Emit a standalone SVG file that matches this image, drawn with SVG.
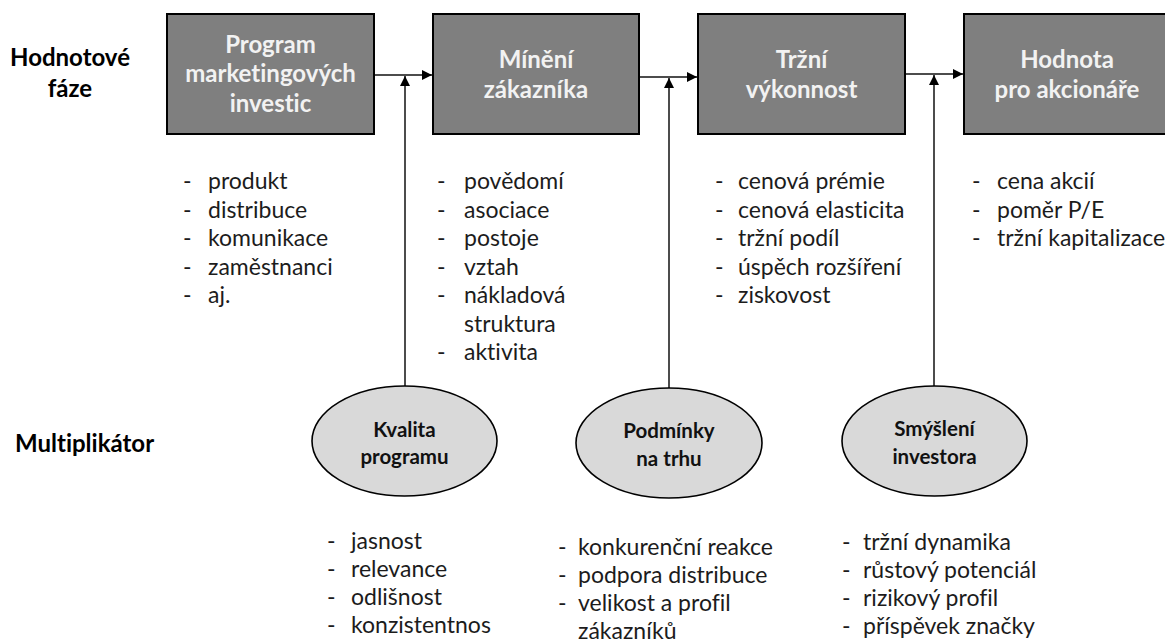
<svg xmlns="http://www.w3.org/2000/svg" width="1165" height="639" viewBox="0 0 1165 639">
  <style>
    text { font-variant-ligatures: none; }
    .phase rect { fill: #7f7f7f; stroke: #000; stroke-width: 2; }
    .phase text { font-family: Lato, "Liberation Sans", sans-serif; font-weight: bold; font-size: 24px; fill: #f2f2f2; text-anchor: middle; }
    .mult ellipse { fill: #d9d9d9; stroke: #000; stroke-width: 1.6; }
    .mult text { font-family: Lato, "Liberation Sans", sans-serif; font-weight: bold; font-size: 20.5px; fill: #111; text-anchor: middle; }
    .row-label { font-family: Lato, "Liberation Sans", sans-serif; font-weight: bold; font-size: 24px; fill: #000; }
    .list text { font-family: Lato, "Liberation Sans", sans-serif; font-size: 23px; fill: #1c1c1c; }
    .conn line { stroke: #111; stroke-width: 1.5; fill: none; }
  </style>
  <defs>
    <marker id="arrow" viewBox="0 0 10 10" refX="10" refY="5" markerWidth="10" markerHeight="10" markerUnits="userSpaceOnUse" orient="auto">
      <path d="M0,0 L10,5 L0,10 Z" fill="#000"/>
    </marker>
  </defs>

  <rect width="1165" height="639" fill="#fff"/>

  <!-- row labels -->
  <g id="label-phases">
    <text class="row-label" x="70" y="66" text-anchor="middle">Hodnotové</text>
    <text class="row-label" x="70" y="97" text-anchor="middle">fáze</text>
  </g>
  <g id="label-multiplier">
    <text class="row-label" x="15" y="452">Multiplikátor</text>
  </g>

  <!-- connectors -->
  <g id="connectors" class="conn">
    <line x1="375" y1="75" x2="432" y2="75" marker-end="url(#arrow)"/>
    <line x1="640" y1="77" x2="697" y2="77" marker-end="url(#arrow)"/>
    <line x1="906" y1="74" x2="963" y2="74" marker-end="url(#arrow)"/>
    <line x1="405" y1="386" x2="405" y2="76" marker-end="url(#arrow)"/>
    <line x1="669" y1="388" x2="669" y2="78" marker-end="url(#arrow)"/>
    <line x1="934" y1="386" x2="934" y2="75" marker-end="url(#arrow)"/>
  </g>

  <!-- value phases -->
  <g id="phase-program" class="phase">
    <rect x="167" y="14" width="207" height="120"/>
    <text x="270.5" y="52.5">Program</text>
    <text x="270.5" y="82">marketingových</text>
    <text x="270.5" y="111.5">investic</text>
  </g>
  <g id="phase-customer" class="phase">
    <rect x="433" y="14" width="206" height="120"/>
    <text x="536" y="68">Mínění</text>
    <text x="536" y="97.5">zákazníka</text>
  </g>
  <g id="phase-market" class="phase">
    <rect x="698" y="14" width="207" height="120"/>
    <text x="801.5" y="68">Tržní</text>
    <text x="801.5" y="97.5">výkonnost</text>
  </g>
  <g id="phase-shareholder" class="phase">
    <rect x="964" y="14" width="207" height="120"/>
    <text x="1067" y="68">Hodnota</text>
    <text x="1067" y="97.5">pro akcionáře</text>
  </g>

  <!-- multipliers -->
  <g id="mult-program" class="mult">
    <ellipse cx="404.5" cy="441" rx="92.5" ry="55"/>
    <text x="404.5" y="437">Kvalita</text>
    <text x="404.5" y="464">programu</text>
  </g>
  <g id="mult-market" class="mult">
    <ellipse cx="669" cy="443" rx="93" ry="55"/>
    <text x="669" y="438">Podmínky</text>
    <text x="669" y="466">na trhu</text>
  </g>
  <g id="mult-investor" class="mult">
    <ellipse cx="934.5" cy="441" rx="92.5" ry="55"/>
    <text x="934.5" y="436">Smýšlení</text>
    <text x="934.5" y="464">investora</text>
  </g>

  <!-- phase metrics -->
  <g id="list-program" class="list">
    <text x="183" y="189">-</text><text x="208" y="189">produkt</text>
    <text x="183" y="217.5">-</text><text x="208" y="217.5">distribuce</text>
    <text x="183" y="246">-</text><text x="208" y="246">komunikace</text>
    <text x="183" y="274.5">-</text><text x="208" y="274.5">zaměstnanci</text>
    <text x="183" y="303">-</text><text x="208" y="303">aj.</text>
  </g>
  <g id="list-customer" class="list">
    <text x="437" y="189">-</text><text x="464" y="189">povědomí</text>
    <text x="437" y="217.5">-</text><text x="464" y="217.5">asociace</text>
    <text x="437" y="246">-</text><text x="464" y="246">postoje</text>
    <text x="437" y="274.5">-</text><text x="464" y="274.5">vztah</text>
    <text x="437" y="303">-</text><text x="464" y="303">nákladová</text>
    <text x="464" y="331.5">struktura</text>
    <text x="437" y="360">-</text><text x="464" y="360">aktivita</text>
  </g>
  <g id="list-market" class="list">
    <text x="715" y="189">-</text><text x="738" y="189">cenová prémie</text>
    <text x="715" y="217.5">-</text><text x="738" y="217.5">cenová elasticita</text>
    <text x="715" y="246">-</text><text x="738" y="246">tržní podíl</text>
    <text x="715" y="274.5">-</text><text x="738" y="274.5">úspěch rozšíření</text>
    <text x="715" y="303">-</text><text x="738" y="303">ziskovost</text>
  </g>
  <g id="list-shareholder" class="list">
    <text x="972" y="189">-</text><text x="997" y="189">cena akcií</text>
    <text x="972" y="217.5">-</text><text x="997" y="217.5">poměr P/E</text>
    <text x="972" y="246">-</text><text x="997" y="246">tržní kapitalizace</text>
  </g>

  <!-- multiplier factors -->
  <g id="list-quality" class="list">
    <text x="327" y="549">-</text><text x="351" y="549">jasnost</text>
    <text x="327" y="577">-</text><text x="351" y="577">relevance</text>
    <text x="327" y="605">-</text><text x="351" y="605">odlišnost</text>
    <text x="327" y="633">-</text><text x="351" y="633">konzistentnos</text>
  </g>
  <g id="list-conditions" class="list">
    <text x="558" y="555">-</text><text x="578" y="555">konkurenční reakce</text>
    <text x="558" y="583">-</text><text x="578" y="583">podpora distribuce</text>
    <text x="558" y="611">-</text><text x="578" y="611">velikost a profil</text>
    <text x="578" y="639">zákazníků</text>
  </g>
  <g id="list-investor" class="list">
    <text x="842" y="550">-</text><text x="863" y="550">tržní dynamika</text>
    <text x="842" y="578">-</text><text x="863" y="578">růstový potenciál</text>
    <text x="842" y="606">-</text><text x="863" y="606">rizikový profil</text>
    <text x="842" y="634">-</text><text x="863" y="634">příspěvek značky</text>
  </g>
</svg>
